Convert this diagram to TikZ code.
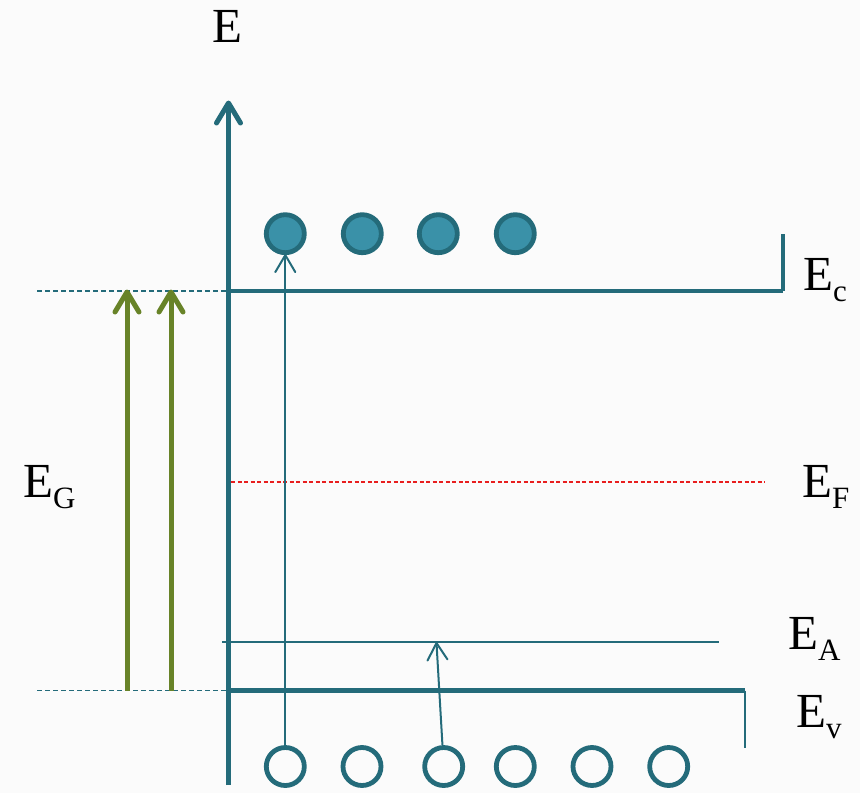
\documentclass[tikz,border=0pt]{standalone}
\usepackage{fontspec}
\setmainfont{Liberation Serif}
\usetikzlibrary{decorations.markings}

\definecolor{bandteal}{RGB}{36,107,122}
\definecolor{dotfill}{RGB}{58,145,168}
\definecolor{gapgreen}{RGB}{104,131,40}
\definecolor{fermired}{RGB}{232,30,30}
\definecolor{paper}{RGB}{251,251,251}

% energy label with a lowered subscript
\newcommand\levlabel[2]{#1\raisebox{-11pt}{\fontsize{31}{31}\selectfont #2}}

\tikzset{
  % open chevron head at the end of a path: depth #1, half-width #2
  chevron/.style 2 args={postaction={decorate, decoration={markings,
      mark=at position 1 with {\draw[line cap=round, line join=round] (-#1,#2) -- (0,0) -- (-#1,-#2);}}}},
  bandline/.style={line width=4.5pt, bandteal},
  thinline/.style={line width=2pt, bandteal},
  guide/.style={line width=1.3pt, bandteal, dash pattern=on 5pt off 3pt},
  fermi/.style={line width=1.3pt, fermired, dash pattern=on 4pt off 2.5pt},
  gaparrow/.style={line width=5pt, gapgreen, chevron={20pt}{12pt}},
  axisarrow/.style={line width=5pt, bandteal, chevron={20pt}{12pt}},
  jumparrow/.style={line width=2pt, bandteal, chevron={17pt}{10pt}},
  electron/.style={circle, draw=bandteal, fill=dotfill, line width=4.8pt, minimum size=38pt, inner sep=0pt},
  hole/.style={circle, draw=bandteal, line width=4.8pt, minimum size=38pt, inner sep=0pt},
  lbl/.style={anchor=base west, inner sep=0pt, font=\fontsize{49}{49}\selectfont}
}

\begin{document}
\begin{tikzpicture}[x=1pt, y=-1pt]
  \fill[paper] (0,0) rectangle (860,793);
  \useasboundingbox (0,0) rectangle (860,793);

  % level coordinates
  \coordinate (axbot) at (228.5,785);
  \coordinate (axtop) at (228.5,103);
  \coordinate (ecL) at (228.5,291);
  \coordinate (ecR) at (783,291);
  \coordinate (ecUp) at (783,234);
  \coordinate (evL) at (228.5,690.5);
  \coordinate (evR) at (745,690.5);
  \coordinate (evDn) at (745,748);
  \coordinate (eaL) at (222,642);
  \coordinate (eaR) at (719,642);
  \coordinate (eaHit) at (436.5,643);
  \coordinate (efL) at (231,482);
  \coordinate (efR) at (765,482);
  \coordinate (gcL) at (37,291);
  \coordinate (gvL) at (37,690.5);
  \coordinate (g1b) at (127,690.5);
  \coordinate (g1t) at (127,292);
  \coordinate (g2b) at (171,690.5);
  \coordinate (g2t) at (171,292);

  % guides for the band gap
  \draw[guide] (gcL) -- (ecL);
  \draw[guide] (gvL) -- (evL);

  % conduction and valence band edges
  \draw[bandline] (ecL) -- (ecR);
  \draw[bandline] (ecR) -- (ecUp);
  \draw[bandline] (evL) -- (evR);
  \draw[thinline] (evR) -- (evDn);

  % acceptor level and Fermi level
  \draw[thinline] (eaL) -- (eaR);
  \draw[fermi] (efL) -- (efR);

  % energy axis
  \draw[axisarrow] (axbot) -- (axtop);

  % band gap arrows
  \draw[gaparrow] (g1b) -- (g1t);
  \draw[gaparrow] (g2b) -- (g2t);

  % electrons in the conduction band
  \node[electron] (e1) at (285.3,233.7) {};
  \node[electron] (e2) at (362.3,233.7) {};
  \node[electron] (e3) at (438.3,233.7) {};
  \node[electron] (e4) at (515.3,233.7) {};

  % holes in the valence band
  \node[hole] (h1) at (285.3,766.5) {};
  \node[hole] (h2) at (362,766.5) {};
  \node[hole] (h3) at (443.7,766.5) {};
  \node[hole] (h4) at (515.3,766.5) {};
  \node[hole] (h5) at (592,766.5) {};
  \node[hole] (h6) at (668.7,766.5) {};

  % transitions
  \draw[jumparrow] (h1) -- (e1);
  \draw[jumparrow] (h3) -- (eaHit);

  % labels
  \node[lbl] (lE) at (212,42) {E};
  \node[lbl] (lEc) at (803,290) {\levlabel{E}{c}};
  \node[lbl] (lEF) at (802,497) {\levlabel{E}{F}};
  \node[lbl] (lEA) at (788,649) {\levlabel{E}{A}};
  \node[lbl] (lEv) at (796,727) {\levlabel{E}{v}};
  \node[lbl] (lEG) at (23,497) {\levlabel{E}{G}};
\end{tikzpicture}
\end{document}
